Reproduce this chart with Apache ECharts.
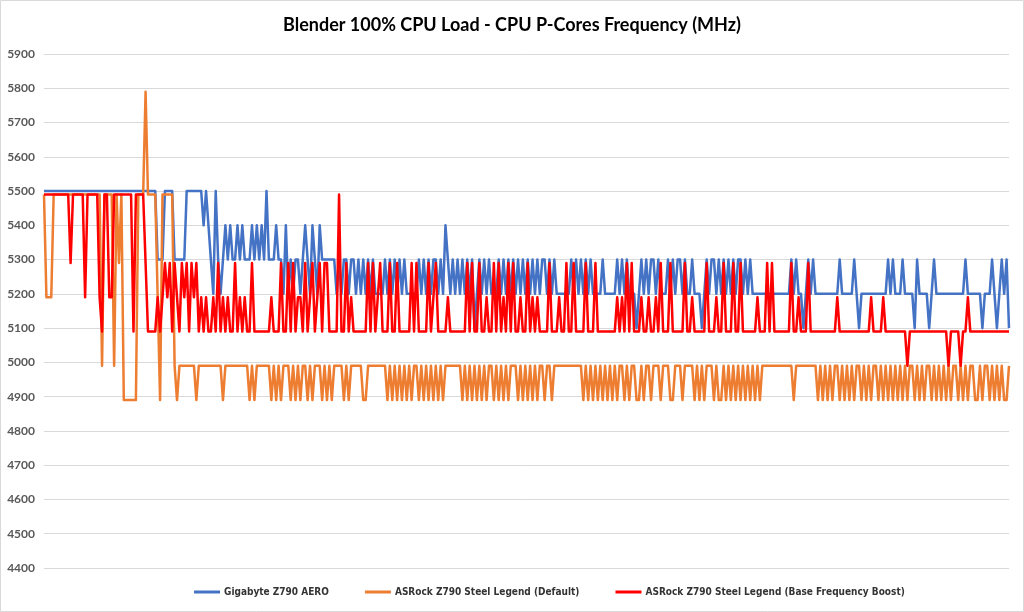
<!DOCTYPE html>
<html>
<head>
<meta charset="utf-8">
<script src="https://cdn.jsdelivr.net/npm/echarts@6/dist/echarts.min.js"></script>
<style>
html,body{margin:0;padding:0;background:#fff;}
#chart{width:1024px;height:612px;}
</style>
</head>
<body>
<div id="chart"></div>
<script>
const titleText = 'Blender 100% CPU Load - CPU P-Cores Frequency (MHz)';
const seriesNames = ['Gigabyte Z790 AERO', 'ASRock Z790 Steel Legend (Default)', 'ASRock Z790 Steel Legend (Base Frequency Boost)'];
const yMin = 4400, yMax = 5900, yStep = 100;

const gigabyte = [
5500,5500,5500,5500,5500,5500,5500,5500,5500,5500,
5500,5500,5500,5500,5500,5500,5500,5500,5500,5500,
5500,5500,5500,5500,5500,5500,5500,5500,5500,5500,
5500,5500,5500,5500,5500,5500,5500,5500,5500,5500,
5500,5500,5500,5500,5500,5500,5500,5300,5300,5300,
5500,5500,5500,5500,5300,5300,5300,5300,5300,5500,
5500,5500,5500,5500,5500,5500,5400,5500,5400,5300,
5200,5500,5300,5200,5300,5400,5300,5400,5300,5300,
5400,5300,5400,5300,5300,5300,5400,5300,5400,5300,
5400,5300,5500,5300,5300,5300,5400,5300,5300,5200,
5400,5200,5300,5200,5300,5300,5200,5300,5400,5300,
5200,5400,5300,5200,5400,5300,5300,5300,5300,5300,
5300,5200,5300,5200,5300,5300,5200,5300,5300,5200,
5300,5200,5300,5200,5300,5200,5300,5200,5200,5200,
5200,5300,5200,5300,5200,5300,5200,5300,5200,5300,
5200,5200,5200,5200,5200,5300,5200,5300,5200,5300,
5200,5300,5300,5200,5300,5200,5400,5300,5200,5300,
5200,5300,5200,5300,5200,5300,5200,5300,5100,5200,
5300,5200,5300,5200,5300,5200,5200,5200,5300,5200,
5300,5200,5300,5200,5300,5200,5300,5200,5300,5200,
5300,5200,5300,5200,5300,5200,5300,5300,5200,5300,
5200,5300,5200,5200,5200,5200,5200,5200,5300,5200,
5300,5200,5300,5200,5300,5200,5300,5200,5200,5200,
5200,5300,5200,5200,5200,5200,5200,5300,5200,5300,
5200,5300,5200,5200,5200,5100,5200,5300,5200,5300,
5200,5300,5300,5200,5300,5200,5200,5200,5300,5200,
5300,5200,5300,5300,5200,5300,5200,5200,5300,5200,
5200,5200,5100,5200,5300,5200,5300,5300,5200,5300,
5200,5300,5200,5300,5200,5300,5200,5300,5300,5200,
5300,5200,5300,5200,5200,5200,5200,5200,5200,5200,
5200,5200,5200,5200,5200,5200,5200,5200,5200,5300,
5200,5300,5200,5200,5100,5200,5300,5200,5300,5200,
5200,5200,5200,5200,5200,5200,5200,5200,5200,5300,
5200,5200,5200,5200,5200,5300,5200,5100,5200,5200,
5200,5200,5200,5200,5200,5200,5200,5200,5200,5300,
5200,5300,5200,5200,5200,5300,5200,5200,5200,5200,
5100,5300,5200,5200,5200,5200,5100,5200,5300,5200,
5200,5200,5200,5200,5200,5200,5200,5200,5200,5200,
5200,5300,5200,5200,5200,5200,5200,5200,5100,5200,
5200,5200,5300,5200,5100,5200,5300,5200,5300,5100
];

const asrockDefault = [
5490,5190,5190,5190,5490,5490,5490,5490,5490,5490,
5490,5490,5490,5490,5490,5490,5490,5490,5490,5490,
5490,5490,5490,5490,4990,5490,5490,5490,5490,4990,
5490,5290,5490,4890,4890,4890,4890,4890,4890,5490,
5490,5490,5790,5490,5490,5490,5490,5190,4890,5490,
5490,5490,5490,5490,4990,4890,4990,4990,4990,4990,
4990,4990,4990,4890,4990,4990,4990,4990,4990,4990,
4990,4990,4990,4990,4890,4990,4990,4990,4990,4990,
4990,4990,4990,4990,4990,4890,4990,4890,4990,4990,
4990,4990,4990,4990,4890,4990,4890,4990,4890,4990,
4990,4990,4890,4990,4890,4990,4890,4990,4990,4890,
4990,4890,4990,4990,4990,4890,4990,4890,4990,4890,
4990,4990,4990,4990,4890,4990,4890,4990,4990,4990,
4990,4990,4890,4890,4990,4990,4990,4990,4990,4990,
4990,4990,4890,4990,4890,4990,4890,4990,4890,4990,
4890,4990,4890,4990,4990,4890,4990,4890,4990,4890,
4990,4890,4990,4890,4990,4890,4990,4990,4990,4990,
4990,4990,4990,4890,4990,4890,4990,4890,4990,4890,
4990,4890,4990,4890,4990,4990,4890,4990,4890,4990,
4890,4990,4890,4990,4990,4990,4890,4990,4890,4990,
4890,4990,4890,4990,4890,4990,4990,4890,4990,4990,
4890,4990,4990,4990,4990,4990,4990,4990,4990,4990,
4990,4990,4990,4890,4990,4890,4990,4890,4990,4890,
4990,4890,4990,4890,4990,4890,4990,4890,4990,4990,
4890,4990,4890,4990,4990,4890,4890,4990,4890,4990,
4990,4890,4990,4990,4990,4890,4990,4990,4990,4890,
4890,4990,4990,4990,4890,4990,4990,4990,4990,4890,
4990,4890,4990,4890,4990,4990,4990,4890,4990,4890,
4890,4990,4890,4990,4890,4990,4890,4990,4890,4990,
4890,4990,4890,4990,4890,4990,4890,4990,4990,4990,
4990,4990,4990,4990,4990,4990,4990,4990,4990,4990,
4890,4990,4990,4990,4990,4990,4990,4990,4990,4990,
4890,4990,4890,4990,4890,4990,4890,4990,4990,4890,
4990,4890,4990,4890,4990,4890,4990,4990,4890,4990,
4890,4990,4890,4990,4990,4890,4990,4890,4990,4890,
4990,4890,4990,4890,4990,4890,4990,4890,4990,4990,
4890,4990,4890,4990,4890,4990,4990,4890,4990,4890,
4990,4890,4990,4890,4990,4890,4990,4990,4890,4990,
4890,4990,4890,4990,4990,4890,4890,4990,4890,4990,
4990,4890,4990,4890,4990,4890,4990,4890,4890,4990
];

const asrockBoost = [
5490,5490,5490,5490,5490,5490,5490,5490,5490,5490,
5490,5290,5490,5490,5490,5490,5490,5190,5490,5490,
5490,5490,5490,5190,5090,5490,5490,5190,5190,5490,
5490,5490,5490,5490,5490,5490,5490,5090,5490,5490,
5490,5490,5290,5090,5090,5090,5090,5190,5090,5190,
5290,5190,5290,5090,5290,5190,5090,5290,5190,5290,
5090,5290,5190,5290,5090,5190,5090,5190,5090,5090,
5190,5090,5290,5090,5190,5090,5190,5090,5090,5290,
5090,5190,5090,5190,5090,5090,5290,5090,5090,5090,
5090,5090,5090,5090,5190,5090,5090,5090,5290,5090,
5090,5290,5090,5290,5090,5190,5190,5090,5290,5090,
5190,5290,5090,5190,5290,5090,5290,5290,5090,5090,
5090,5090,5490,5090,5090,5290,5090,5190,5090,5090,
5090,5090,5090,5090,5290,5090,5290,5090,5190,5290,
5090,5090,5090,5290,5090,5090,5290,5090,5090,5090,
5090,5090,5290,5090,5290,5090,5090,5090,5090,5290,
5090,5190,5290,5090,5090,5090,5090,5190,5090,5090,
5090,5090,5090,5090,5090,5290,5090,5290,5090,5090,
5290,5090,5090,5190,5090,5090,5290,5090,5290,5090,
5190,5090,5290,5090,5290,5090,5090,5190,5090,5090,
5290,5090,5190,5090,5190,5090,5090,5090,5090,5290,
5090,5090,5090,5190,5090,5090,5290,5090,5090,5290,
5090,5090,5090,5090,5290,5090,5090,5090,5290,5090,
5090,5090,5090,5090,5090,5090,5090,5190,5090,5190,
5090,5290,5090,5290,5090,5090,5090,5190,5090,5090,
5190,5090,5090,5190,5090,5290,5090,5090,5090,5290,
5090,5090,5090,5090,5090,5290,5090,5090,5190,5090,
5090,5090,5090,5090,5290,5090,5090,5090,5190,5090,
5090,5290,5090,5090,5090,5290,5090,5090,5290,5090,
5090,5090,5090,5090,5090,5190,5090,5090,5090,5290,
5090,5290,5090,5090,5090,5090,5090,5090,5090,5290,
5090,5090,5190,5090,5090,5090,5290,5090,5090,5090,
5090,5090,5090,5090,5090,5090,5090,5090,5190,5090,
5090,5090,5090,5090,5090,5090,5090,5090,5090,5090,
5090,5090,5190,5090,5090,5090,5090,5190,5090,5090,
5090,5090,5090,5090,5090,5090,5090,4990,5090,5090,
5090,5090,5090,5090,5090,5090,5090,5090,5090,5090,
5090,5090,5090,5090,4990,5090,5090,5090,5090,4990,
5090,5090,5190,5090,5090,5090,5090,5090,5090,5090,
5090,5090,5090,5090,5090,5090,5090,5090,5090,5090
];

const samples = gigabyte.map((_, i) => String(i + 1));
const colors = ['#4472C4', '#ED7D31', '#FF0000'];

const chart = echarts.init(document.getElementById('chart'), null, {renderer: 'canvas'});
chart.setOption({
  animation: false,
  backgroundColor: '#ffffff',
  title: {
    text: titleText,
    left: 'center',
    top: 11,
    textStyle: {fontFamily: 'Lato', fontWeight: 'bold', fontSize: 18, color: '#000000'}
  },
  graphic: [{
    type: 'rect',
    shape: {x: 0.5, y: 0.5, width: 1023, height: 611},
    style: {fill: 'none', stroke: '#d9d9d9', lineWidth: 1},
    silent: true, z: -1
  }],
  grid: {left: 44, right: 15, top: 54, bottom: 44, containLabel: false},
  legend: {
    bottom: 10,
    left: 189,
    icon: 'rect',
    itemWidth: 26,
    itemHeight: 3,
    itemGap: 36,
    textStyle: {fontFamily: 'DejaVu Sans Condensed', fontWeight: 'bold', fontSize: 10, color: '#333333', padding: [0, 0, 0, -1]},
    data: seriesNames
  },
  xAxis: {
    type: 'category',
    data: samples,
    boundaryGap: false,
    axisLine: {show: false},
    axisTick: {show: false},
    axisLabel: {show: false},
    splitLine: {show: false}
  },
  yAxis: {
    type: 'value',
    min: yMin, max: yMax, interval: yStep,
    axisLine: {show: false},
    axisTick: {show: false},
    axisLabel: {fontFamily: 'Lato', fontWeight: 'bold', fontSize: 12, color: '#595959', margin: 9, formatter: v => String(v)},
    splitLine: {lineStyle: {color: '#d9d9d9', width: 1}}
  },
  series: [
    {name: seriesNames[0], type: 'line', data: gigabyte, showSymbol: false, symbol: 'none', color: colors[0], lineStyle: {width: 2.5, color: colors[0], join: 'round'}},
    {name: seriesNames[1], type: 'line', data: asrockDefault, showSymbol: false, symbol: 'none', color: colors[1], lineStyle: {width: 2.5, color: colors[1], join: 'round'}},
    {name: seriesNames[2], type: 'line', data: asrockBoost, showSymbol: false, symbol: 'none', color: colors[2], lineStyle: {width: 2.5, color: colors[2], join: 'round'}}
  ]
});
</script>
</body>
</html>
